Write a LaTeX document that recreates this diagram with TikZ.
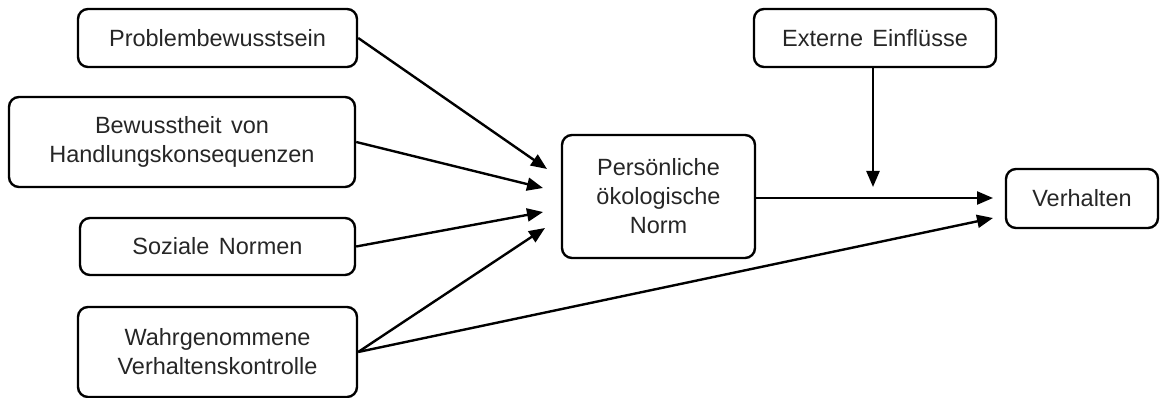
\documentclass[tikz,border=0pt]{standalone}
\usepackage{fontspec}
\setmainfont{Liberation Sans}
\usetikzlibrary{arrows.meta}
\definecolor{txt}{HTML}{262626}
\tikzset{
  box/.style={draw=black, line width=2.4pt, rounded corners=10pt, align=center,
    inner sep=0pt, text=txt, font=\fontsize{23.5pt}{29pt}\selectfont},
  conn/.style={draw=black, line width=2.4pt, -{Triangle[length=16pt,width=13pt]}}
}
\begin{document}
\begin{tikzpicture}[x=1pt,y=-1pt]
\useasboundingbox (0,0) rectangle (1163,398);
\node[box, minimum width=279pt, minimum height=58pt] (prob) at (217.5,38) {Problembewusstsein};
\node[box, minimum width=346pt, minimum height=90pt] (bew) at (182,142) {Bewusstheit\hspace{0.4em}von\\Handlungskonsequenzen};
\node[box, minimum width=275pt, minimum height=57pt] (soz) at (217.5,246.5) {Soziale\hspace{0.4em}Normen};
\node[box, minimum width=279pt, minimum height=90pt] (wahr) at (217.5,352) {Wahrgenommene\\Verhaltenskontrolle};
\node[box, minimum width=193pt, minimum height=123pt] (norm) at (658.5,196.5) {Persönliche\\ökologische\\Norm};
\node[box, minimum width=242pt, minimum height=58pt] (ext) at (875,38) {Externe\hspace{0.4em}Einflüsse};
\node[box, minimum width=152pt, minimum height=59pt] (verh) at (1082,198.5) {Verhalten};
\coordinate (t1) at (547,169);
\coordinate (t2) at (543,188);
\coordinate (t3) at (543,212);
\coordinate (t4) at (545,228);
\coordinate (tv1) at (993,198);
\coordinate (tv2) at (993,218);
\coordinate (te) at (873,187);
\coordinate (norme) at (755,198);
\coordinate (exts) at (873,67);
\draw[conn] (prob.east) -- (t1);
\draw[conn] (bew.east) -- (t2);
\draw[conn] (soz.east) -- (t3);
\draw[conn] (wahr.east) -- (t4);
\draw[conn] (wahr.east) -- (tv2);
\draw[conn] (norme) -- (tv1);
\draw[conn] (exts) -- (te);
\end{tikzpicture}
\end{document}
